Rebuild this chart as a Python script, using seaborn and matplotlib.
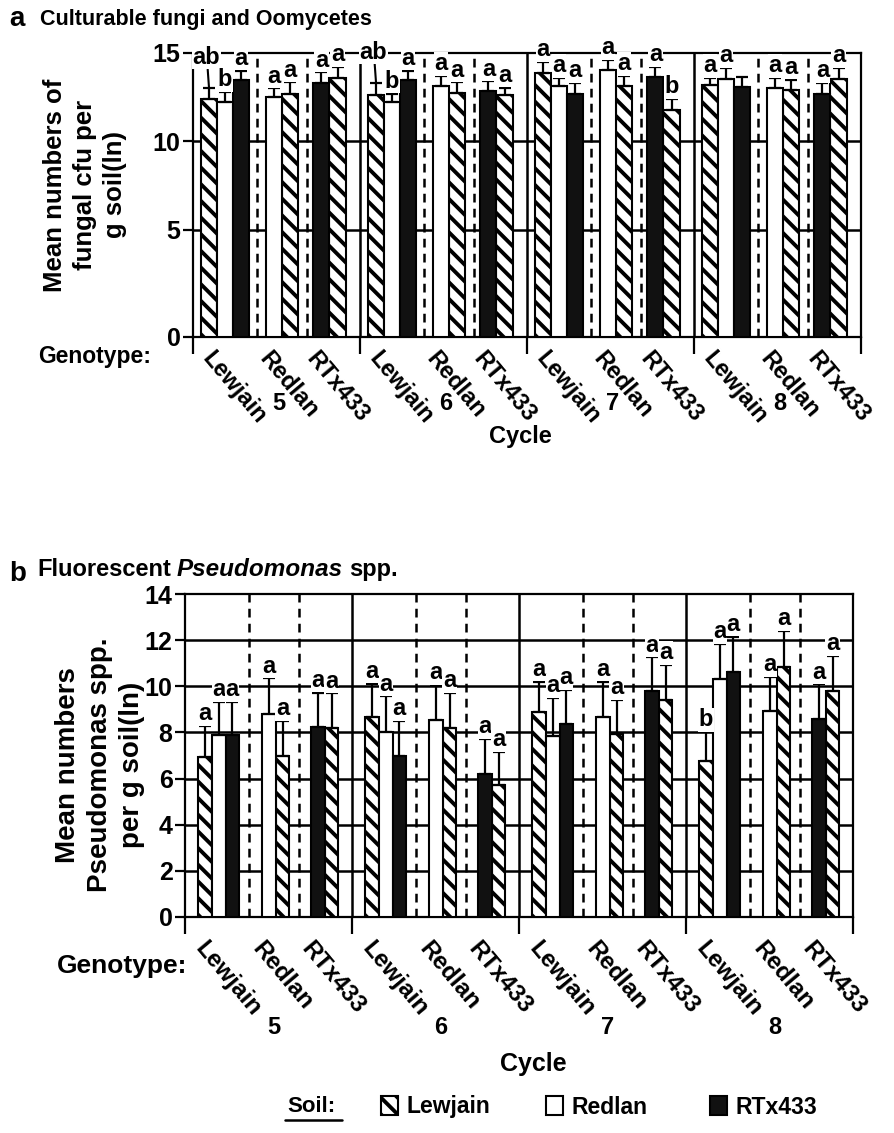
import numpy as np
import pandas as pd
import matplotlib
matplotlib.use("Agg")
import matplotlib.pyplot as plt
import seaborn as sns
from matplotlib.patches import Patch
from matplotlib.lines import Line2D
from matplotlib.transforms import blended_transform_factory

# ---------------- data ----------------
cycles = ["5", "6", "7", "8"]
genotypes = ["Lewjain", "Redlan", "RTx433"]
soils = ["Lewjain", "Redlan", "RTx433"]
# soil order of the bars inside each genotype group
group_soils = [["Lewjain", "Redlan", "RTx433"], ["Redlan", "Lewjain"], ["RTx433", "Lewjain"]]

fungi_mean = [12.40, 12.25, 13.45, 12.50, 12.70, 13.30, 13.60,
              12.60, 12.25, 13.50, 13.15, 12.75, 12.85, 12.60,
              13.85, 13.15, 12.70, 14.05, 13.15, 13.65, 11.80,
              13.20, 13.55, 13.10, 13.05, 12.90, 12.70, 13.55]
fungi_se = [0.60, 0.55, 0.55, 0.50, 0.65, 0.60, 0.60,
            0.70, 0.45, 0.50, 0.55, 0.60, 0.55, 0.45,
            0.65, 0.45, 0.60, 0.55, 0.55, 0.55, 0.60,
            0.40, 0.60, 0.55, 0.55, 0.60, 0.60, 0.60]
fungi_letters = ["ab", "b", "a", "a", "a", "a", "a",
                 "ab", "b", "a", "a", "a", "a", "a",
                 "a", "a", "a", "a", "a", "a", "b",
                 "a", "a", "", "a", "a", "a", "a"]

pseudo_mean = [6.94, 7.87, 7.87, 8.80, 7.00, 8.24, 8.20,
               8.65, 8.03, 7.00, 8.56, 8.20, 6.19, 5.71,
               8.87, 7.85, 8.36, 8.68, 7.93, 9.79, 9.40,
               6.77, 10.31, 10.60, 8.94, 10.82, 8.58, 9.79]
pseudo_se = [1.35, 1.46, 1.46, 1.54, 1.49, 1.49, 1.50,
             1.47, 1.54, 1.50, 1.49, 1.52, 1.52, 1.45,
             1.33, 1.65, 1.48, 1.52, 1.47, 1.46, 1.52,
             1.26, 1.52, 1.55, 1.47, 1.58, 1.50, 1.52]
pseudo_letters = ["a", "a", "a", "a", "a", "a", "a",
                  "a", "a", "a", "a", "a", "a", "a",
                  "a", "a", "a", "a", "a", "a", "a",
                  "b", "a", "a", "a", "a", "a", "a"]

# ---------------- style ----------------
sns.set_theme(style="ticks")
plt.rcParams["font.family"] = ["Liberation Sans", "DejaVu Sans"]
plt.rcParams["font.weight"] = "bold"
for key in ["text.color", "axes.labelcolor", "xtick.color", "ytick.color", "axes.edgecolor"]:
    plt.rcParams[key] = "black"
plt.rcParams["hatch.linewidth"] = 2.8
plt.rcParams["axes.linewidth"] = 1.6

W, H = 894, 1133
fig = plt.figure(figsize=(W / 100, H / 100), dpi=100)

CW = 10.4  # width of one cycle block (x units)


def fx(px):
    return px / W


def fy(py):
    return 1 - py / H


def build_df(mean, se, letters, centers, step):
    rows = []
    i = 0
    for c, cyc in enumerate(cycles):
        for g, geno in enumerate(genotypes):
            n = len(group_soils[g])
            for k, soil in enumerate(group_soils[g]):
                pos = c * CW + centers[g] + (k - (n - 1) / 2) * step
                rows.append(dict(cycle=cyc, genotype=geno, soil=soil, pos=round(pos, 4),
                                 mean=mean[i], se=se[i], letter=letters[i]))
                i += 1
    return pd.DataFrame(rows)


k_low = 1.21


def fwd(y):
    y = np.asarray(y, dtype=float)
    return np.where(y <= 5, y * k_low, 5 * k_low + (y - 5))


def inv(v):
    v = np.asarray(v, dtype=float)
    return np.where(v <= 5 * k_low, v / k_low, v - 5 * k_low + 5)


def draw_panel(ax, df, ymax, yticks, hlines, dashed, label_fs):
    pal = {"Lewjain": "white", "Redlan": "white", "RTx433": "#111111"}
    sns.barplot(data=df, x="pos", y="mean", hue="soil", hue_order=soils, palette=pal,
                native_scale=True, dodge=False, width=1.0, errorbar=None, saturation=1,
                edgecolor="black", linewidth=1.5, legend=False, ax=ax, zorder=3)
    for cont, soil in zip(ax.containers, soils):
        if soil == "Lewjain":
            for p in cont:
                p.set_hatch("\\\\")
    ax.errorbar(df["pos"], df["mean"], yerr=[np.zeros(len(df)), df["se"]], fmt="none",
                ecolor="black", elinewidth=1.6, capsize=4, capthick=1.6, zorder=4)
    for _, r in df.iterrows():
        if not r["letter"]:
            continue
        if len(r["letter"]) > 1:
            ax.annotate(r["letter"], xy=(r["pos"], r["mean"] + r["se"]), xytext=(-2, 14),
                        textcoords="offset points", ha="center", va="bottom",
                        fontsize=label_fs, fontweight="bold", zorder=6,
                        bbox=dict(fc="white", ec="none", pad=0.3),
                        arrowprops=dict(arrowstyle="-", lw=1.5, color="black",
                                        shrinkA=0, shrinkB=0, relpos=(0.55, 0)))
        else:
            ax.annotate(r["letter"], xy=(r["pos"], r["mean"] + r["se"]), xytext=(0, 0.5),
                        textcoords="offset points", ha="center", va="bottom",
                        fontsize=label_fs, fontweight="bold", zorder=6,
                        bbox=dict(fc="white", ec="none", pad=0.3))
    for h in hlines:
        ax.axhline(h, color="black", lw=1.8, zorder=1)
    for c in range(len(cycles)):
        for d in dashed:
            ax.axvline(c * CW + d, color="black", lw=1.8, ls=(0, (3.5, 2.5)), zorder=1)
        if c > 0:
            ax.axvline(c * CW, color="black", lw=1.8, zorder=1)
    ax.set_xlim(0, CW * len(cycles))
    ax.set_ylim(0, ymax)
    ax.set_yticks(yticks)
    ax.set_yticklabels([str(t) for t in yticks], fontsize=18, fontweight="bold")
    ax.set_xticks([c * CW for c in range(len(cycles) + 1)])
    ax.set_xticklabels([])
    ax.tick_params(axis="y", length=7, width=1.6, direction="out", pad=2)
    ax.tick_params(axis="x", length=12, width=1.6, direction="out")
    ax.set_xlabel("")
    ax.set_ylabel("")
    for s in ax.spines.values():
        s.set_visible(True)
        s.set_color("black")
        s.set_linewidth(1.6)
        s.set_zorder(2.5)


# ---------------- panel a ----------------
axa = fig.add_axes([fx(193), fy(337), fx(861 - 193), (337 - 53) / H])
centers_a = [2.0, 5.55, 8.5]
df_a = build_df(fungi_mean, fungi_se, fungi_letters, centers_a, 1.0)
draw_panel(axa, df_a, 15, [0, 5, 10, 15], [5, 10], [4.0, 7.1], 17)
axa.set_yscale("function", functions=(fwd, inv))
axa.set_ylim(0, 15)
axa.set_yticks([0, 5, 10, 15])
axa.set_yticklabels(["0", "5", "10", "15"], fontsize=18, fontweight="bold")
axa.yaxis.set_minor_locator(matplotlib.ticker.NullLocator())

# ---------------- panel b ----------------
axb = fig.add_axes([fx(185), fy(917), fx(853 - 185), (917 - 594) / H])
centers_b = [2.1, 5.65, 8.7]
df_b = build_df(pseudo_mean, pseudo_se, pseudo_letters, centers_b, 0.85)
draw_panel(axb, df_b, 14, list(range(0, 15, 2)), list(range(2, 14, 2)), [4.0, 7.1], 17)


# ---------------- axis annotations ----------------
def genotype_labels(ax, y_px, centers, fs, num_y, shift, num_shift):
    tr = blended_transform_factory(ax.transData, fig.transFigure)
    for c in range(len(cycles)):
        for g, geno in enumerate(genotypes):
            ax.text(c * CW + centers[g] + shift, fy(y_px), geno, transform=tr, rotation=-50,
                    rotation_mode="anchor", ha="left", va="top", fontsize=fs,
                    fontweight="bold")
        ax.text(c * CW + CW / 2 + num_shift, fy(num_y), cycles[c],
                transform=tr, ha="center", va="center", fontsize=17, fontweight="bold")


genotype_labels(axa, 347, centers_a, 17, 404, -0.65, 0.15)
genotype_labels(axb, 937, centers_b, 17.5, 1028, -0.65, 0.3)

fig.text(fx(38), fy(356), "Genotype:", ha="left", va="center", fontsize=16.5, fontweight="bold")
fig.text(fx(57), fy(966), "Genotype:", ha="left", va="center", fontsize=19, fontweight="bold")
fig.text(fx(520), fy(437), "Cycle", ha="center", va="center", fontsize=17, fontweight="bold")
fig.text(fx(533), fy(1064), "Cycle", ha="center", va="center", fontsize=18, fontweight="bold")

fig.text(fx(85), fy(185), "Mean numbers of\nfungal cfu per\ng soil(ln)", rotation=90,
         ha="center", va="center", multialignment="center", fontsize=18.5,
         fontweight="bold", linespacing=1.3)
fig.text(fx(100), fy(765), "Mean numbers\nPseudomonas spp.\nper g soil(ln)", rotation=90,
         ha="center", va="center", multialignment="center", fontsize=20,
         fontweight="bold", linespacing=1.3)

# titles
fig.text(fx(9), fy(19), "a", ha="left", va="center", fontsize=20, fontweight="bold")
fig.text(fx(40), fy(20), "Culturable fungi and Oomycetes", ha="left", va="center",
         fontsize=15.5, fontweight="bold")
fig.text(fx(9), fy(574), "b", ha="left", va="center", fontsize=20, fontweight="bold")

renderer = fig.canvas.get_renderer()
base = fy(576)
x_cur = fx(37)
for txt, style, fs in [("Fluorescent", "normal", 17), ("Pseudomonas", "italic", 17.5),
                       ("spp.", "normal", 17)]:
    t = fig.text(x_cur, base, txt, ha="left", va="baseline", fontsize=fs,
                 fontweight="bold", fontstyle=style)
    bb = t.get_window_extent(renderer)
    x_cur = bb.x1 / fig.bbox.width + fx(6)

# legend
fig.text(fx(287), fy(1107), "Soil:", ha="left", va="center", fontsize=16, fontweight="bold")
fig.add_artist(Line2D([fx(285), fx(342)], [fy(1120), fy(1120)], color="black", lw=1.8))
leg_pos = {"Lewjain": 381, "Redlan": 546, "RTx433": 710}
handles = {"Lewjain": Patch(fc="white", ec="black", hatch="\\\\", lw=1.5),
           "Redlan": Patch(fc="white", ec="black", lw=1.5),
           "RTx433": Patch(fc="#111111", ec="black", lw=1.5)}
for s in soils:
    fig.legend([handles[s]], [s], loc="center left", bbox_to_anchor=(fx(leg_pos[s]), fy(1107)),
               frameon=False, handlelength=0.75, handleheight=0.85, handletextpad=0.35,
               borderpad=0, borderaxespad=0, labelcolor="black",
               prop=dict(size=16.5, weight="bold"))

fig.savefig("out.png", dpi=100)
